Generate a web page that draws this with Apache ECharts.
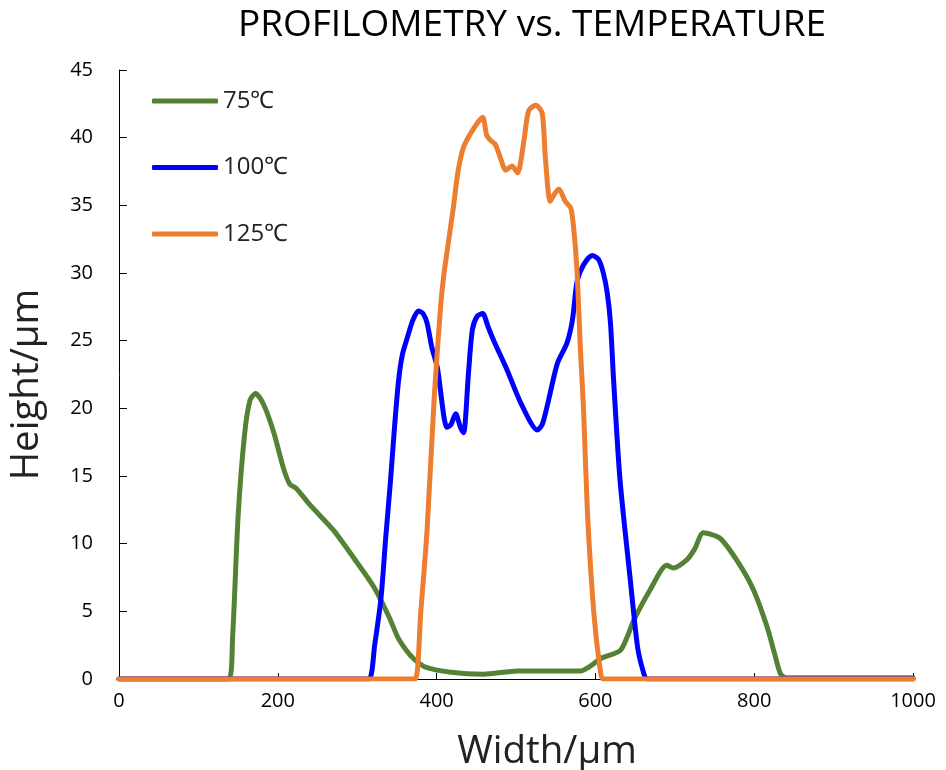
<!DOCTYPE html>
<html>
<head>
<meta charset="utf-8">
<script src="https://cdn.jsdelivr.net/npm/echarts@6/dist/echarts.min.js"></script>
<style>
  html, body { margin: 0; padding: 0; background: #fff; }
  #chart { width: 946px; height: 770px; }
</style>
</head>
<body>
<div id="chart"></div>
<script>
// values
const seriesNames = ['75℃', '100℃', '125℃'];
const seriesColors = ['#548235', '#0000FF', '#ED7D31'];

const width75 = [0, 100, 138, 143, 150, 158, 165, 172, 182, 195, 207, 215, 223, 240, 270, 295, 321, 340, 351, 362, 371, 385, 418, 459, 502, 540, 581, 595, 606, 631, 640, 648, 669, 690, 698, 715, 725, 736, 757, 780, 799, 816, 826, 833, 840, 1000];
const height75 = [0, 0, 0, 3, 12, 18, 20.6, 21.1, 20.3, 18.2, 15.6, 14.4, 14.1, 12.9, 11.0, 9.0, 6.8, 4.6, 3.1, 2.1, 1.5, 0.9, 0.5, 0.35, 0.6, 0.6, 0.6, 1.0, 1.5, 2.1, 3.1, 4.3, 6.6, 8.4, 8.2, 8.8, 9.6, 10.8, 10.4, 8.6, 6.6, 3.9, 1.8, 0.4, 0.1, 0.1];

const width100 = [0, 300, 315, 322, 330, 336, 342, 347, 352, 357, 363, 370, 377, 383, 388, 394, 401, 413, 418, 424, 430, 434, 440, 445, 451, 458, 465, 472, 489, 506, 527, 533, 539, 552, 564, 571, 577, 585, 596, 604, 610, 615, 619, 623, 631, 644, 653, 660, 665, 1000];
const height100 = [0, 0, 0, 2.5, 6, 10.5, 14.7, 18.6, 22, 24, 25.2, 26.5, 27.2, 27.0, 26.3, 24.5, 23, 18.6, 18.8, 19.6, 18.6, 18.2, 22.5, 25.8, 26.8, 27.0, 26.0, 25.0, 22.8, 20.4, 18.4, 18.8, 20.1, 23.3, 24.8, 26.5, 29.4, 30.6, 31.3, 31.0, 30.0, 28.5, 26.3, 22, 14.7, 7.3, 2.4, 0.6, 0, 0];

const width125 = [0, 360, 373, 380, 388, 397, 405, 409, 413, 421, 427, 434, 447, 458, 463, 468, 474, 481, 487, 495, 502, 510, 516, 525, 533, 537, 543, 548, 554, 562, 569, 573, 577, 581, 585, 590, 598, 606, 610, 1000];
const height125 = [0, 0, 0, 4.9, 11, 20.8, 27.5, 29.8, 31.5, 34.8, 37.5, 39.3, 40.7, 41.5, 40.2, 39.8, 39.5, 38.4, 37.6, 37.9, 37.4, 39.8, 42.0, 42.4, 41.8, 38.5, 35.3, 35.8, 36.2, 35.3, 34.8, 33.1, 30.0, 24.5, 20, 12.3, 4.9, 0.7, 0, 0];

const xTicks = { min: 0, max: 1000, interval: 200 };
const yTicks = { min: 0, max: 45, interval: 5 };

const pairs = (xs, ys) => xs.map((x, i) => [x, ys[i]]);
const seriesData = [pairs(width75, height75), pairs(width100, height100), pairs(width125, height125)];

const chart = echarts.init(document.getElementById('chart'));
const font = 'Open Sans';

chart.setOption({
  animation: false,
  title: {
    text: 'PROFILOMETRY vs. TEMPERATURE',
    left: 527,
    textAlign: 'center',
    top: 2,
    textStyle: { fontFamily: font, fontSize: 37, fontWeight: 'normal', color: '#000' }
  },
  legend: {
    orient: 'vertical',
    left: 147,
    top: 84,
    icon: 'roundRect',
    itemWidth: 66,
    itemHeight: 5,
    itemGap: 42.5,
    data: seriesNames,
    textStyle: { fontFamily: font, fontSize: 24, color: '#222', padding: [12, 0, 0, 0] }
  },
  grid: { left: 119, right: 33, top: 70, bottom: 91, outerBoundsMode: 'none', containLabel: false },
  xAxis: {
    type: 'value',
    min: xTicks.min,
    max: xTicks.max,
    interval: xTicks.interval,
    name: 'Width/µm',
    nameLocation: 'middle',
    nameGap: 54,
    nameTextStyle: { fontFamily: font, fontSize: 38.5, color: '#222', padding: [0, 0, 0, 62] },
    axisLine: { lineStyle: { color: '#000', width: 1 } },
    axisTick: { inside: true, length: 6, lineStyle: { color: '#000' } },
    axisLabel: { fontFamily: font, fontSize: 20, color: '#000', margin: 12, formatter: v => String(v) },
    splitLine: { show: false }
  },
  yAxis: {
    type: 'value',
    min: yTicks.min,
    max: yTicks.max,
    interval: yTicks.interval,
    name: 'Height/µm',
    nameLocation: 'middle',
    nameGap: 72,
    nameTextStyle: { fontFamily: font, fontSize: 38.5, color: '#222', padding: [0, 20, 0, 0] },
    axisLine: { show: true, lineStyle: { color: '#000', width: 1 } },
    axisTick: { show: true, inside: true, length: 8, lineStyle: { color: '#000' } },
    axisLabel: { fontFamily: font, fontSize: 20, color: '#000', margin: 26 },
    splitLine: { show: false }
  },
  series: seriesNames.map((name, i) => ({
    name: name,
    type: 'line',
    data: seriesData[i],
    showSymbol: false,
    symbol: 'none',
    smooth: 0.25,
    color: seriesColors[i],
    lineStyle: { width: 5, color: seriesColors[i], cap: 'round', join: 'round' },
    z: 2 + i
  }))
});
</script>
</body>
</html>
